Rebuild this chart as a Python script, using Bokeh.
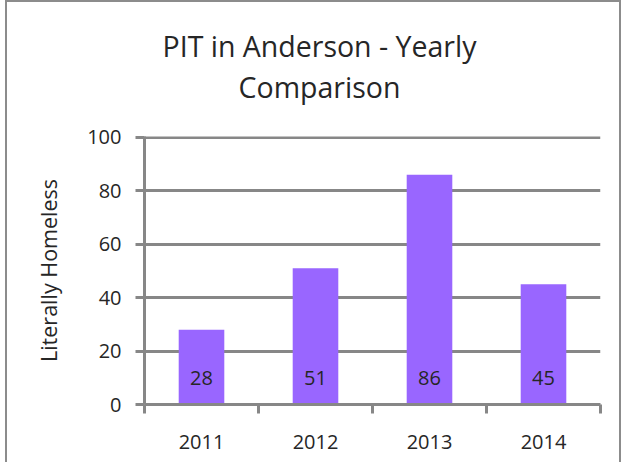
from bokeh.plotting import figure
from bokeh.layouts import column
from bokeh.models import Range1d, FixedTicker, ColumnDataSource, Label
from bokeh.core.properties import value
from bokeh.embed import file_html
from bokeh.resources import INLINE

years = ["2011", "2012", "2013", "2014"]
counts = [28, 51, 86, 45]
y_ticks = [0, 20, 40, 60, 80, 100]
title_lines = ["PIT in Anderson - Yearly", "Comparison"]

FONT = "Open Sans"
GRID = "#878787"
TEXT = "#262626"
W = 612

# ---- title strip (its frame is aligned with the chart frame by the column) ----
t = figure(width=W, height=110, output_backend="svg", toolbar_location=None,
           x_range=Range1d(0, 1), y_range=Range1d(0, 1), min_border=0,
           x_axis_location=None, y_axis_location=None)
t.grid.visible = False
t.outline_line_color = None
for line, ypix in zip(title_lines, [67, 26]):
    t.add_layout(Label(x=175, y=ypix, x_units="screen", y_units="screen", text=line,
                       text_align="center", text_baseline="middle", text_font=FONT,
                       text_font_size="28.5px", text_color=TEXT))

# ---- chart ----
xpos = [i + 0.5 for i in range(len(years))]
src = ColumnDataSource(dict(x=xpos, top=counts, label=[str(c) for c in counts]))

p = figure(width=W, height=350, output_backend="svg", toolbar_location=None,
           x_range=Range1d(0, len(years)), y_range=Range1d(0, 100.3),
           min_border_left=137, min_border_top=24, min_border_right=19, min_border_bottom=58)
p.outline_line_color = None

p.vbar(x="x", top="top", width=0.4, source=src, fill_color="#9966FF", line_color=None)
p.text(x="x", y=0, text="label", source=src, text_align="center", text_baseline="middle",
       y_offset=-27, text_font=value(FONT), text_font_size="20px", text_color=TEXT)

xa = p.xaxis[0]
xa.ticker = FixedTicker(ticks=xpos, minor_ticks=list(range(len(years) + 1)))
xa.major_label_overrides = {x: y for x, y in zip(xpos, years)}
xa.major_tick_out = 0
xa.major_tick_in = 0
xa.minor_tick_out = 9
xa.minor_tick_in = 0
xa.minor_tick_line_color = GRID
xa.minor_tick_line_width = 3
xa.axis_line_color = GRID
xa.axis_line_width = 3
xa.major_label_standoff = 21
xa.major_label_text_font = FONT
xa.major_label_text_font_size = "20px"
xa.major_label_text_color = TEXT

ya = p.yaxis[0]
ya.ticker = FixedTicker(ticks=y_ticks)
ya.major_tick_out = 9
ya.major_tick_in = 0
ya.minor_tick_out = 0
ya.minor_tick_in = 0
ya.major_tick_line_color = GRID
ya.major_tick_line_width = 3
ya.axis_line_color = GRID
ya.axis_line_width = 3
ya.major_label_standoff = 14
ya.major_label_text_font = FONT
ya.major_label_text_font_size = "20px"
ya.major_label_text_color = TEXT
ya.axis_label = "Literally Homeless"
ya.axis_label_text_font = FONT
ya.axis_label_text_font_size = "21.5px"
ya.axis_label_text_font_style = "normal"
ya.axis_label_text_color = TEXT
ya.axis_label_standoff = 21

p.xgrid.grid_line_color = None
p.ygrid.ticker = FixedTicker(ticks=y_ticks)
p.ygrid.grid_line_color = GRID
p.ygrid.grid_line_width = 3

layout = column(t, p, spacing=0)
layout.styles = {"border-top": "2px solid #8c8c8c", "border-left": "2px solid #8c8c8c",
                 "border-right": "2px solid #8c8c8c", "margin-left": "5px"}

open("out.html", "w").write(file_html(layout, INLINE))
